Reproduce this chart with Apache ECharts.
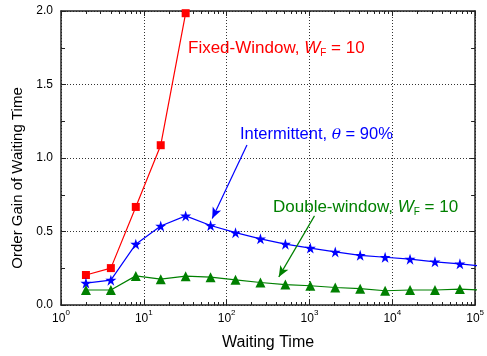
<!DOCTYPE html>
<html>
<head>
<meta charset="utf-8">
<script src="https://cdn.jsdelivr.net/npm/echarts@6/dist/echarts.min.js"></script>
<style>html,body{margin:0;padding:0;background:#fff}#c{width:487px;height:356px}</style>
</head>
<body>
<div id="c"></div>
<script>
// ---- data ----
var waitFixed = [2, 4, 8, 16, 32];
var gainFixed = [0.204, 0.251, 0.667, 1.087, 1.985];
var waitInter = [2, 4, 8, 16, 32, 64, 128, 256, 512, 1024, 2048, 4096, 8192, 16384, 32768, 65536, 131072];
var gainInter = [0.149, 0.169, 0.414, 0.537, 0.606, 0.541, 0.492, 0.450, 0.414, 0.387, 0.361, 0.338, 0.325, 0.312, 0.294, 0.280, 0.262];
var waitDouble = [2, 4, 8, 16, 32, 64, 128, 256, 512, 1024, 2048, 4096, 8192, 16384, 32768, 65536, 131072];
var gainDouble = [0.102, 0.102, 0.198, 0.176, 0.196, 0.189, 0.171, 0.153, 0.139, 0.131, 0.119, 0.111, 0.097, 0.102, 0.102, 0.108, 0.101];
var yTicks = [0, 0.5, 1.0, 1.5, 2.0];
var xMinorTicks = [2,3,4,5,6,7,8,9,20,30,40,50,60,70,80,90,200,300,400,500,600,700,800,900,2000,3000,4000,5000,6000,7000,8000,9000,20000,30000,40000,50000,60000,70000,80000,90000];
// annotation arrows (data coords): [start, end]
var arrowInter = [[176, 1.089], [67, 0.588]];
var arrowDouble = [[1150, 0.606], [426, 0.191]];

var FONT = 'Liberation Sans, Arial, Helvetica, sans-serif';
var AX = '#222';

function pairs(xs, ys) { return xs.map(function (x, i) { return [x, ys[i]]; }); }

var STAR = 'path://M100,0 L122.45,69.1 L195.1,69.1 L136.3,111.8 L158.8,180.9 L100,138.2 L41.2,180.9 L63.7,111.8 L4.9,69.1 L77.55,69.1 Z';

var chart = echarts.init(document.getElementById('c'), null, {renderer: 'canvas'});

function xAxisBase(extra) {
  return Object.assign({
    type: 'log', logBase: 10, min: 1, max: 100000, gridIndex: 0
  }, extra);
}

function richLabel(color, size) {
  return {
    a: {fontFamily: FONT, fontSize: size, fill: color, lineHeight: 20, verticalAlign: 'middle'},
    i: {fontFamily: FONT, fontSize: size, fontStyle: 'italic', fill: color, lineHeight: 20, verticalAlign: 'middle'},
    t: {fontFamily: 'DejaVu Serif, serif', fontSize: size - 1, fontStyle: 'italic', fill: color, lineHeight: 20, verticalAlign: 'middle'},
    s: {fontFamily: FONT, fontSize: 10, fill: color, lineHeight: 20, verticalAlign: 'bottom'}
  };
}

var option = {
  animation: false,
  backgroundColor: '#fff',
  grid: {left: 61, right: 9.5, top: 11, bottom: 46.5, containLabel: false},
  xAxis: [
    xAxisBase({
      position: 'bottom',
      name: 'Waiting Time', nameLocation: 'middle', nameGap: 30,
      nameTextStyle: {fontFamily: FONT, fontSize: 16, color: '#000'},
      axisLine: {show: true, lineStyle: {color: AX, width: 1.5}},
      axisTick: {show: true, inside: true, length: 5, lineStyle: {color: AX, width: 1}},
      axisLabel: {
        show: true, margin: 4,
        formatter: function (v) { return '{b|10}{s|' + Math.round(Math.log10(v)) + '}'; },
        rich: {
          b: {fontFamily: FONT, fontSize: 12, color: '#000', lineHeight: 16, verticalAlign: 'bottom'},
          s: {fontFamily: FONT, fontSize: 8, color: '#000', lineHeight: 16, verticalAlign: 'top'}
        }
      },
      splitLine: {show: true, lineStyle: {color: '#333', type: [1, 2], width: 1}}
    }),
    xAxisBase({
      position: 'bottom',
      axisLine: {show: false},
      axisLabel: {show: false},
      splitLine: {show: false},
      axisTick: {show: true, inside: true, length: 3, customValues: xMinorTicks, lineStyle: {color: AX, width: 1}}
    }),
    xAxisBase({
      position: 'top',
      axisLine: {show: true, lineStyle: {color: AX, width: 1.5}},
      axisLabel: {show: false},
      splitLine: {show: false},
      axisTick: {show: true, inside: true, length: 5, lineStyle: {color: AX, width: 1}}
    }),
    xAxisBase({
      position: 'top',
      axisLine: {show: false},
      axisLabel: {show: false},
      splitLine: {show: false},
      axisTick: {show: true, inside: true, length: 3, customValues: xMinorTicks, lineStyle: {color: AX, width: 1}}
    })
  ],
  yAxis: [
    {
      type: 'value', min: yTicks[0], max: yTicks[yTicks.length - 1], interval: 0.5,
      position: 'left',
      name: 'Order Gain of Waiting Time', nameLocation: 'middle', nameGap: 36, nameRotate: 90,
      nameTextStyle: {fontFamily: FONT, fontSize: 15, color: '#000', padding: [0, 40, 0, 0]},
      axisLine: {show: true, lineStyle: {color: AX, width: 1.5}},
      axisTick: {show: true, inside: true, length: 5, lineStyle: {color: AX, width: 1}},
      minorTick: {show: true, splitNumber: 2, length: 4, lineStyle: {color: AX, width: 1}},
      axisLabel: {show: true, margin: 8, fontFamily: FONT, fontSize: 12, color: '#000',
        formatter: function (v) { return v.toFixed(1); }},
      splitLine: {show: true, lineStyle: {color: '#333', type: [1, 2], width: 1}}
    },
    {
      type: 'value', min: yTicks[0], max: yTicks[yTicks.length - 1], interval: 0.5,
      position: 'right',
      axisLine: {show: true, lineStyle: {color: AX, width: 1.5}},
      axisTick: {show: true, inside: true, length: 5, lineStyle: {color: AX, width: 1}},
      minorTick: {show: true, splitNumber: 2, length: 4, lineStyle: {color: AX, width: 1}},
      axisLabel: {show: false},
      splitLine: {show: false}
    }
  ],
  series: [
    {
      name: 'Fixed-Window', type: 'line', xAxisIndex: 0, yAxisIndex: 0,
      data: pairs(waitFixed, gainFixed), clip: true,
      symbol: 'rect', symbolSize: 8,
      lineStyle: {color: '#ff0000', width: 1.2},
      itemStyle: {color: '#ff0000'}
    },
    {
      name: 'Intermittent', type: 'line', xAxisIndex: 0, yAxisIndex: 0,
      data: pairs(waitInter, gainInter), clip: true,
      symbol: STAR, symbolSize: 11,
      lineStyle: {color: '#0000ff', width: 1.2},
      itemStyle: {color: '#0000ff'},
      markLine: {
        silent: true, symbol: ['none', 'arrow'], symbolSize: [7, 11],
        label: {show: false},
        lineStyle: {color: '#0000ff', type: 'solid', width: 1.2},
        data: [[{coord: arrowInter[0]}, {coord: arrowInter[1]}]]
      }
    },
    {
      name: 'Double-window', type: 'line', xAxisIndex: 0, yAxisIndex: 0,
      data: pairs(waitDouble, gainDouble), clip: true,
      symbol: 'triangle', symbolSize: 10,
      lineStyle: {color: '#008000', width: 1.2},
      itemStyle: {color: '#008000'},
      markLine: {
        silent: true, symbol: ['none', 'arrow'], symbolSize: [7, 11],
        label: {show: false},
        lineStyle: {color: '#008000', type: 'solid', width: 1.2},
        data: [[{coord: arrowDouble[0]}, {coord: arrowDouble[1]}]]
      }
    }
  ],
  graphic: [
    {
      type: 'text', left: 188, top: 40, silent: true,
      style: {
        text: '{a|Fixed-Window, }{i|W}{s|F}{a| = 10}',
        rich: richLabel('#ff0000', 17)
      }
    },
    {
      type: 'text', left: 240, top: 126, silent: true,
      style: {
        text: '{a|Intermittent, }{t|θ}{a| = 90%}',
        rich: richLabel('#0000ff', 16.5)
      }
    },
    {
      type: 'text', left: 273, top: 199, silent: true,
      style: {
        text: '{a|Double-window, }{i|W}{s|F}{a| = 10}',
        rich: richLabel('#008000', 17)
      }
    }
  ]
};
chart.setOption(option);
</script>
</body>
</html>
